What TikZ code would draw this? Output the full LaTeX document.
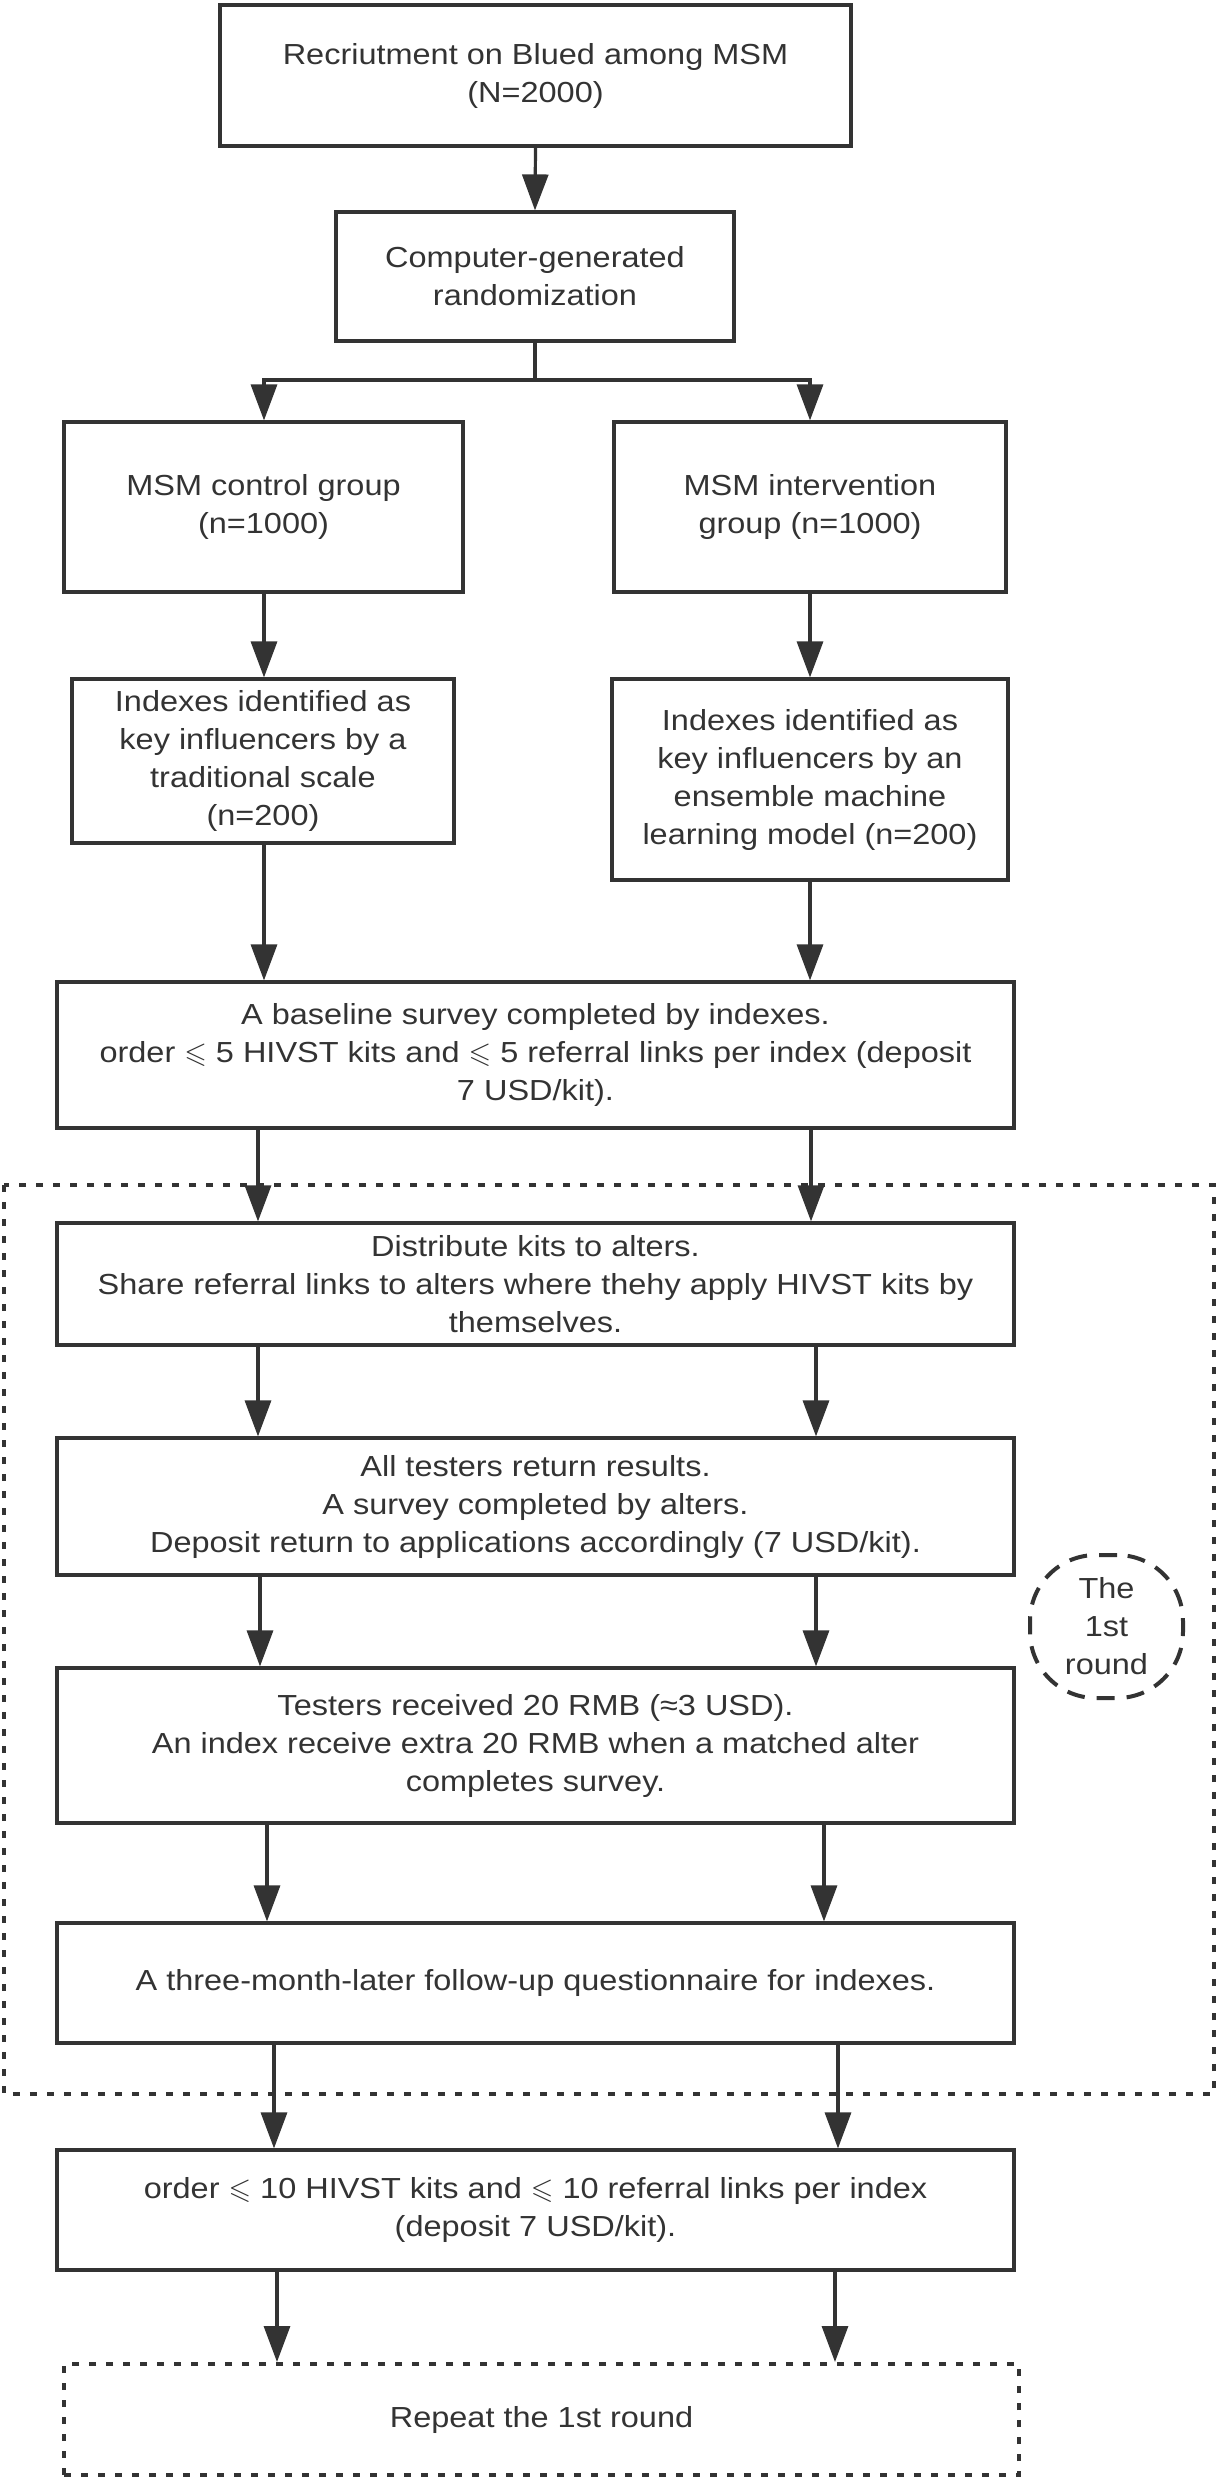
\documentclass[tikz,border=0pt]{standalone}
\usepackage{fontspec}
\usepackage{amssymb}
\setmainfont{Liberation Sans}[FakeStretch=1.12]
\usetikzlibrary{arrows.meta}
\definecolor{ink}{HTML}{333333}
\newcommand{\myleq}{{$\leqslant$}}
\begin{document}
\begin{tikzpicture}[x=0.5pt,y=-0.5pt,
  every node/.style={font={\fontsize{14.5pt}{19pt}\selectfont}, text=ink, align=center, inner sep=0pt},
  box/.style={draw=ink, line width=1.6pt},
  dotbox/.style={draw=ink, line width=2pt, dash pattern=on 3.5pt off 5pt},
  roundbox/.style={draw=ink, line width=2pt, dash pattern=on 9pt off 6pt, rounded corners=33pt},
  ln/.style={draw=ink, line width=1.6pt},
  arr/.style={draw=ink, line width=1.6pt, -{Triangle[length=18pt,width=13pt]}}]
\useasboundingbox (0,0) rectangle (1218,2481);
\fill[white] (0,0) rectangle (1218,2481);

% big dotted frame of the first round
\draw[dotbox] (4,1185) rectangle (1214,2094);

\node[box, minimum width=315.5pt, minimum height=70.5pt] (b1) at (535.5,75.5)
  {Recriutment on Blued among MSM\\(N=2000)};
\node[box, minimum width=199pt, minimum height=64.5pt] (b2) at (535,276.5)
  {Computer-generated\\randomization};
\node[box, minimum width=199.5pt, minimum height=85pt] (b3) at (263.5,507)
  {MSM control group\\(n=1000)};
\node[box, minimum width=196pt, minimum height=85pt] (b4) at (810,507)
  {MSM intervention\\group (n=1000)};
\node[box, minimum width=191pt, minimum height=82pt] (b5) at (263,761)
  {Indexes identified as\\key influencers by a\\traditional scale\\(n=200)};
\node[box, minimum width=198pt, minimum height=100.5pt] (b6) at (810,779.5)
  {Indexes identified as\\key influencers by an\\ensemble machine\\learning model (n=200)};
\node[box, minimum width=478.5pt, minimum height=73pt] (b7) at (535.5,1055)
  {A baseline survey completed by indexes.\\order \myleq\ 5 HIVST kits and \myleq\ 5 referral links per index (deposit\\7 USD/kit).};
\node[box, minimum width=478.5pt, minimum height=61pt] (b8) at (535.5,1284)
  {Distribute kits to alters.\\Share referral links to alters where thehy apply HIVST kits by\\themselves.};
\node[box, minimum width=478.5pt, minimum height=68.5pt] (b9) at (535.5,1506.5)
  {All testers return results.\\A survey completed by alters.\\Deposit return to applications accordingly (7 USD/kit).};
\node[box, minimum width=478.5pt, minimum height=77.5pt] (b10) at (535.5,1745.5)
  {Testers received 20 RMB (≈3 USD).\\An index receive extra 20 RMB when a matched alter\\completes survey.};
\node[box, minimum width=478.5pt, minimum height=60pt] (b11) at (535.5,1983)
  {A three-month-later follow-up questionnaire for indexes.};
\node[box, minimum width=478.5pt, minimum height=60pt] (b12) at (535.5,2210)
  {order \myleq\ 10 HIVST kits and \myleq\ 10 referral links per index\\(deposit 7 USD/kit).};
\node[dotbox, minimum width=477.5pt, minimum height=55.5pt] (b13) at (541.5,2419.5)
  {Repeat the 1st round};
\node[roundbox, minimum width=76.5pt, minimum height=71.5pt] (rnd) at (1106.5,1626.5)
  {The\\1st\\round};

% connectors
\coordinate (sp) at (535,380);
\coordinate (sl) at (264,380);
\coordinate (sr) at (810,380);
\draw[arr] (b1.south) -- (b2.north);
\draw[ln] (b2.south) -- (sp);
\draw[ln, line cap=rect] (sl) -- (sr);
\draw[arr] (sl) -- (b3.north -| sl);
\draw[arr] (sr) -- (b4.north -| sr);

\coordinate (xa) at (264,0);
\coordinate (xb) at (810,0);
\draw[arr] (b3.south -| xa) -- (b5.north -| xa);
\draw[arr] (b4.south -| xb) -- (b6.north -| xb);
\draw[arr] (b5.south -| xa) -- (b7.north -| xa);
\draw[arr] (b6.south -| xb) -- (b7.north -| xb);

\coordinate (xc) at (258,0);
\coordinate (xd) at (811,0);
\draw[arr] (b7.south -| xc) -- (b8.north -| xc);
\draw[arr] (b7.south -| xd) -- (b8.north -| xd);

\coordinate (xe) at (258,0);
\coordinate (xf) at (816,0);
\draw[arr] (b8.south -| xe) -- (b9.north -| xe);
\draw[arr] (b8.south -| xf) -- (b9.north -| xf);

\coordinate (xg) at (260,0);
\coordinate (xh) at (816,0);
\draw[arr] (b9.south -| xg) -- (b10.north -| xg);
\draw[arr] (b9.south -| xh) -- (b10.north -| xh);

\coordinate (xi) at (267,0);
\coordinate (xj) at (824,0);
\draw[arr] (b10.south -| xi) -- (b11.north -| xi);
\draw[arr] (b10.south -| xj) -- (b11.north -| xj);

\coordinate (xk) at (274,0);
\coordinate (xl) at (838,0);
\draw[arr] (b11.south -| xk) -- (b12.north -| xk);
\draw[arr] (b11.south -| xl) -- (b12.north -| xl);

\coordinate (xm) at (277,0);
\coordinate (xn) at (835,0);
\draw[arr] (b12.south -| xm) -- (b13.north -| xm);
\draw[arr] (b12.south -| xn) -- (b13.north -| xn);
\end{tikzpicture}
\end{document}
